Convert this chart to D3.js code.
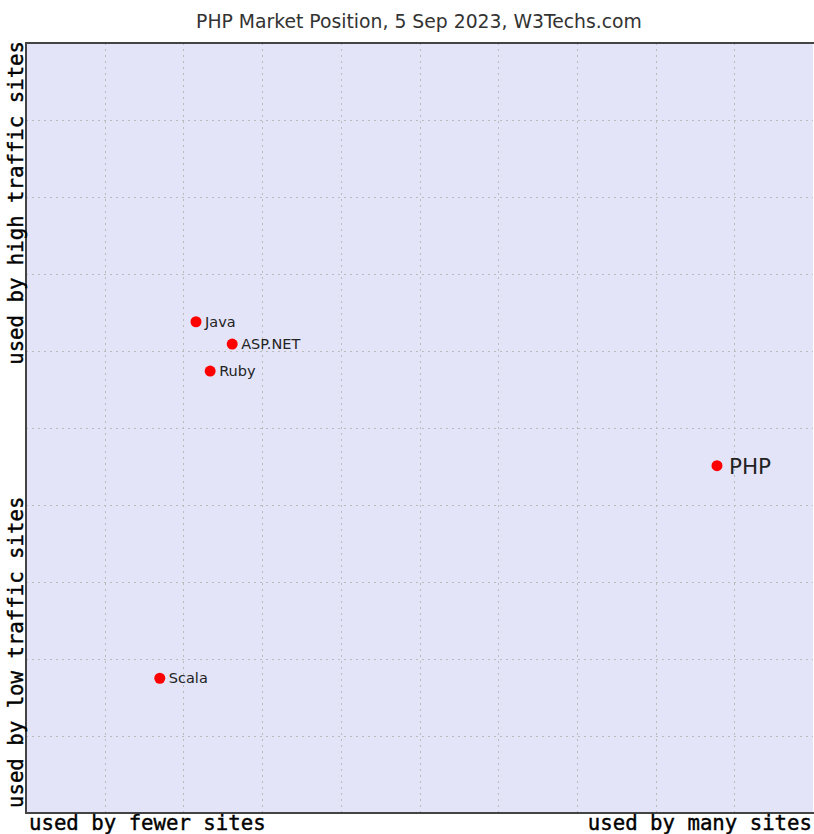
<!DOCTYPE html>
<html>
<head>
<meta charset="utf-8">
<script src="https://cdn.jsdelivr.net/npm/d3@7"></script>
<style>
  body { margin: 0; background: #fff; }
  svg { display: block; }
</style>
</head>
<body>
<svg id="chart"></svg>
<script>
// technologies, their share of sites (x, 0-100) and traffic rank (y, 0-100)
const names = ['Java', 'ASP.NET', 'Ruby', 'PHP', 'Scala'];
const usage = [21.6, 26.2, 23.4, 87.8, 17.0];
const traffic = [63.8, 60.9, 57.4, 45.1, 17.5];
const highlight = ['PHP'];
const gridTicks = d3.range(0, 101, 10);

const W = 814, H = 834;
const margin = { top: 43, right: 1, bottom: 21, left: 26 };
const width = W - margin.left - margin.right;
const height = H - margin.top - margin.bottom;

const svg = d3.select('#chart').attr('width', W).attr('height', H);

svg.append('text')
  .attr('x', 419)
  .attr('y', 28)
  .attr('text-anchor', 'middle')
  .attr('font-family', 'DejaVu Sans')
  .attr('font-size', 18.8)
  .attr('fill', '#333')
  .text('PHP Market Position, 5 Sep 2023, W3Techs.com');

const g = svg.append('g').attr('transform', `translate(${margin.left},${margin.top})`);

const x = d3.scaleLinear().domain([0, 100]).range([0, width]);
const y = d3.scaleLinear().domain([0, 100]).range([height, 0]);

g.append('rect')
  .attr('width', width)
  .attr('height', height)
  .attr('fill', '#e4e4f8');

// dotted grid
g.append('g')
  .selectAll('line')
  .data(gridTicks.slice(1, -1))
  .enter()
  .append('line')
  .attr('x1', d => Math.round(x(d)) + 0.5)
  .attr('x2', d => Math.round(x(d)) + 0.5)
  .attr('y1', 0)
  .attr('y2', height)
  .attr('stroke', '#bbb')
  .attr('stroke-dasharray', '2,4');

g.append('g')
  .selectAll('line')
  .data(gridTicks.slice(1, -1))
  .enter()
  .append('line')
  .attr('y1', d => Math.round(y(d)) + 0.5)
  .attr('y2', d => Math.round(y(d)) + 0.5)
  .attr('x1', 0)
  .attr('x2', width)
  .attr('stroke', '#bbb')
  .attr('stroke-dasharray', '2,4');

// frame: top, left, bottom
g.append('path')
  .attr('d', `M${width + 1},0H0V${height}H${width + 1}`)
  .attr('fill', 'none')
  .attr('stroke', '#444')
  .attr('stroke-width', 2);

const points = names.map((n, i) => ({ name: n, u: usage[i], t: traffic[i] }));

const pt = g.selectAll('.pt')
  .data(points)
  .enter()
  .append('g')
  .attr('transform', d => `translate(${x(d.u)},${y(d.t)})`);

pt.append('circle')
  .attr('r', 5.5)
  .attr('fill', '#ff0000');

pt.append('text')
  .attr('x', d => highlight.includes(d.name) ? 12 : 9)
  .attr('y', d => highlight.includes(d.name) ? 8 : 5)
  .attr('font-family', 'DejaVu Sans')
  .attr('font-size', d => highlight.includes(d.name) ? 21.5 : 14.5)
  .attr('fill', '#222')
  .text(d => d.name);

// axis captions
const mono = { family: 'DejaVu Sans Mono', size: 20.7 };

function caption(transform, anchor, text) {
  svg.append('text')
    .attr('transform', transform)
    .attr('text-anchor', anchor)
    .attr('font-family', mono.family)
    .attr('font-size', mono.size)
    .attr('fill', '#000')
    .attr('stroke', '#000')
    .attr('stroke-width', 0.4)
    .text(text);
}

caption('translate(29,830)', 'start', 'used by fewer sites');
caption('translate(812,830)', 'end', 'used by many sites');
caption('translate(23,808) rotate(-90)', 'start', 'used by low traffic sites');
caption('translate(23,41) rotate(-90)', 'end', 'used by high traffic sites');
</script>
</body>
</html>
